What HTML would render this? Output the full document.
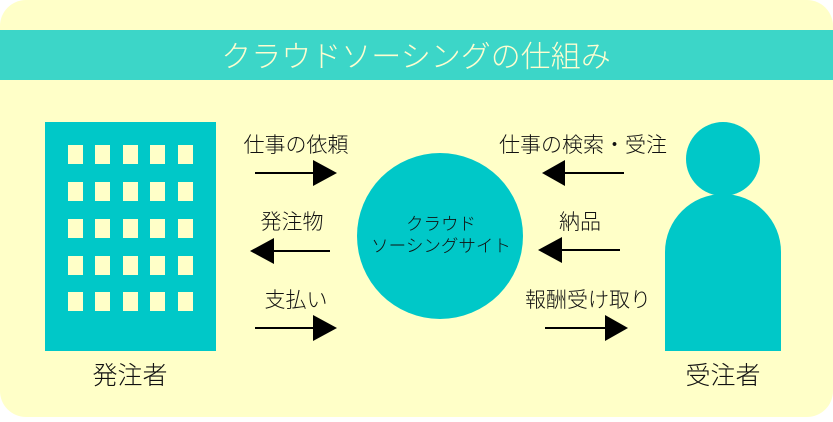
<!DOCTYPE html>
<html><head><meta charset="utf-8"><style>
body{margin:0;width:833px;height:417px;background:#fff;overflow:hidden}
.t{font-family:"Liberation Sans","Noto Sans CJK JP",sans-serif;}
</style></head><body>
<svg width="833" height="417" xmlns="http://www.w3.org/2000/svg" class="t">
<rect x="0" y="0" width="833" height="417" rx="26" fill="#ffffc8"/>
<rect x="0" y="30" width="833" height="50" fill="#3cd6c8"/>
<text x="416" y="67" font-size="30" font-weight="300" fill="#fdfdd0" text-anchor="middle">クラウドソーシングの仕組み</text>
<rect x="45" y="122" width="171" height="229" fill="#00c8c8"/>
<g fill="#ffffc8">
<g id="r"><rect x="68" y="145" width="15" height="19"/><rect x="95" y="145" width="15" height="19"/><rect x="123" y="145" width="15" height="19"/><rect x="150" y="145" width="15" height="19"/><rect x="178" y="145" width="15" height="19"/></g>
<use href="#r" y="37"/><use href="#r" y="74"/><use href="#r" y="111"/><use href="#r" y="147"/>
</g>
<text x="130" y="384" font-size="25" font-weight="300" text-anchor="middle" fill="#111">発注者</text>
<circle cx="440" cy="236" r="83" fill="#00c8c8"/>
<text x="441" y="230" font-size="17.5" font-weight="300" text-anchor="middle" fill="#111">クラウド</text>
<text x="441" y="252" font-size="17.5" font-weight="300" text-anchor="middle" fill="#111">ソーシングサイト</text>
<g font-size="21" font-weight="300" fill="#111" text-anchor="middle">
<text x="296" y="152">仕事の依頼</text>
<text x="292" y="229">発注物</text>
<text x="296" y="307">支払い</text>
<text x="583" y="152">仕事の検索・受注</text>
<text x="580" y="229">納品</text>
<text x="588" y="307">報酬受け取り</text>
</g>
<g stroke="#000" stroke-width="2">
<line x1="255" y1="173" x2="315" y2="173"/>
<line x1="272" y1="251" x2="330" y2="251"/>
<line x1="255" y1="328" x2="315" y2="328"/>
<line x1="563" y1="173" x2="624" y2="173"/>
<line x1="560" y1="250" x2="620" y2="250"/>
<line x1="545" y1="328" x2="607" y2="328"/>
</g>
<g fill="#000">
<polygon points="313,160 337,173 313,186"/>
<polygon points="274,238 250,251 274,264"/>
<polygon points="313,315 337,328 313,341"/>
<polygon points="565,160 542,173 565,186"/>
<polygon points="562,237 538,250 562,263"/>
<polygon points="605,315 628,328 605,341"/>
</g>
<circle cx="723" cy="159" r="37" fill="#00c8c8"/>
<path d="M665,351 V252 A58,58 0 0 1 781,252 V351 Z" fill="#00c8c8"/>
<text x="723" y="384" font-size="25" font-weight="300" text-anchor="middle" fill="#111">受注者</text>
</svg>
</body></html>
